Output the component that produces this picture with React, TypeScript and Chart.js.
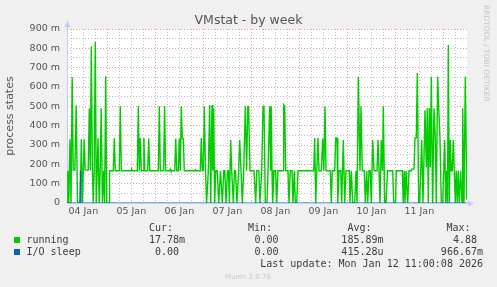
import React, { useEffect, useRef } from 'react';
import { Chart, registerables } from 'chart.js';

Chart.register(...registerables);

// time unit: half-hour steps (munin week resolution) since 04 Jan 00:00
const runningSlots = [
  7.7, 8.5, 9.5, 10.7, 11.7, 12.9, 13.9, 15.5, 16.9, 18.2, 21, 22, 23.1, 24.9, 25.9, 28.9, 30, 31, 32, 33.1,
  33.9, 34.9, 36, 37, 37.9, 38.7, 39.9, 40.9, 41.9, 43.1, 44.3, 45.3, 46.4, 47.4, 49.7, 50.3, 54, 55, 56, 60,
  61, 62, 71.7, 72.4, 73.1, 78, 79, 80, 81, 82, 83.7, 84.6, 85.5, 88.4, 89.4, 90.4, 99, 100, 101, 104.3,
  105.3, 106.3, 110.5, 111, 111.5, 115.4, 116.4, 117.4, 119, 120, 121, 122, 123, 124, 125, 135.4, 136, 136.7, 141, 142,
  143, 144, 145, 146.2, 147.3, 149, 150.4, 151.4, 152.7, 153.5, 154.4, 155.3, 156.5, 158, 159.4, 161.2, 163, 164.5, 165.5, 166.7,
  168.2, 169.2, 170.1, 171.4, 172.4, 174, 175.2, 176.2, 177.7, 179.3, 180.4, 181.7, 183, 184.4, 186, 187.3, 188.5, 189.3, 190.7, 194.7,
  196.4, 197.5, 199.5, 200.7, 202.4, 203.7, 204.7, 206, 207.7, 208.7, 210.4, 211.3, 211.9, 212.7, 213.4, 214.7, 216.3, 217.4, 218.7, 223.7,
  224.4, 225.4, 226.4, 228.7, 229.7, 231, 232.7, 233.7, 235, 236, 237.4, 238.7, 254.4, 255.4, 256.4, 257.5, 258.7, 259.7, 262, 263.4,
  264.5, 265.7, 266.7, 271, 272, 273, 275.4, 276.4, 277.7, 278.5, 279.7, 281.4, 282.4, 284, 285.4, 286.7, 290, 290.7, 292, 293.4,
  295.4, 296.7, 297.7, 299, 300.7, 301.7, 303, 305, 306, 307.4, 308.4, 309.7, 311, 312, 313.4, 314.7, 317.7, 318.7, 319.7, 320.7,
  322, 323.2, 324, 325.4, 326.7, 328.2, 333.4, 334.4, 336.2, 337, 343, 343.9, 344.9, 345.7, 346.7, 348.4, 349.7, 351.7, 352.2, 354.7,
  355.7, 357, 358, 359.4, 360.4, 362.4, 363.7, 365.7, 367, 368, 369, 370, 371, 372, 373.4, 374.7, 376, 377, 378.4, 379.4,
  380.7, 382, 383.4, 384.4, 385.4, 386.4, 387.4, 388.2, 389, 390, 391, 392, 393, 394, 395, 396, 397, 398, 399, 400,
  401.4, 402.7, 403.4, 404.7, 406, 407.5,
];

// running, in milli-units (m)
const runningValues = [
  0, 167, 0, 330, 0, 650, 170, 170, 505, 0, 0, 330, 0, 330, 170, 170, 490, 170, 810, 170,
  0, 170, 833, 0, 170, 336, 0, 170, 490, 0, 167, 0, 655, 0, 0, 167, 167, 336, 167, 167,
  500, 167, 167, 175, 167, 167, 500, 167, 336, 167, 167, 336, 167, 167, 333, 167, 167, 500, 167, 167,
  500, 167, 167, 175, 167, 167, 333, 167, 167, 333, 167, 500, 333, 333, 167, 167, 172, 167, 167, 336,
  167, 167, 500, 167, 0, 167, 507, 0, 507, 167, 490, 0, 167, 167, 0, 167, 0, 167, 167, 0,
  167, 167, 0, 326, 167, 0, 167, 167, 0, 167, 326, 167, 0, 167, 500, 167, 500, 500, 167, 167,
  0, 167, 167, 0, 167, 500, 500, 0, 0, 167, 500, 167, 500, 167, 0, 167, 167, 0, 167, 167,
  507, 500, 167, 167, 0, 167, 167, 0, 167, 0, 0, 167, 167, 336, 0, 167, 336, 167, 167, 333,
  167, 500, 167, 167, 0, 167, 167, 336, 336, 0, 167, 167, 0, 326, 0, 167, 167, 0, 167, 0,
  0, 167, 0, 653, 167, 500, 167, 167, 0, 167, 0, 167, 167, 0, 326, 167, 167, 326, 167, 0,
  326, 167, 500, 0, 0, 167, 167, 0, 0, 167, 167, 0, 167, 0, 167, 0, 167, 167, 175, 175,
  336, 336, 672, 0, 0, 326, 0, 480, 185, 490, 0, 490, 185, 653, 0, 490, 336, 0, 653, 490,
  336, 0, 0, 167, 326, 0, 167, 0, 817, 0, 326, 167, 167, 326, 167, 0, 167, 0, 167, 0,
  167, 0, 490, 0, 653, 18,
];

const ioSleepSlots = [7.7, 20.5, 21.1, 21.7, 407.5];
const ioSleepValues = [0, 0, 167, 0, 0];

const dayLabels = ['04 Jan', '05 Jan', '06 Jan', '07 Jan', '08 Jan', '09 Jan', '10 Jan', '11 Jan'];

const legendHeaders = ['Cur:', 'Min:', 'Avg:', 'Max:'];
const legendNames = ['running', 'I/O sleep'];
const legendColors = ['#00CC00', '#0066B3'];
const legendStats = [
  ['17.78m', '0.00 ', '185.89m', '4.88 '],
  ['0.00 ', '0.00 ', '415.28u', '966.67m'],
];
const lastUpdate = 'Last update: Mon Jan 12 11:00:08 2026';
const titleText = 'VMstat - by week';
const yTitle = 'process states';

const X_MIN = 7.7;
const X_MAX = 407.7;
const MAJOR = 'rgba(230,120,120,0.75)';
const MINOR = 'rgba(170,170,170,0.75)';
const AXIS = '#c4c8f4';

const decor = {
  id: 'decor',
  beforeDraw(chart: any) {
    const { ctx, chartArea: a } = chart;
    ctx.save();
    ctx.fillStyle = '#f0f0f0';
    ctx.fillRect(0, 0, chart.width, chart.height);
    ctx.fillStyle = '#ffffff';
    ctx.fillRect(a.left, a.top, a.right - a.left, a.bottom - a.top);
    ctx.restore();
  },
  beforeDatasetsDraw(chart: any) {
    const { ctx, chartArea: a } = chart;
    ctx.save();
    ctx.strokeStyle = AXIS;
    ctx.fillStyle = AXIS;
    ctx.lineWidth = 1;
    ctx.beginPath();
    ctx.moveTo(a.left + 0.5, a.bottom);
    ctx.lineTo(a.left + 0.5, a.top - 4);
    ctx.moveTo(a.left, a.bottom + 0.5);
    ctx.lineTo(a.right + 4, a.bottom + 0.5);
    ctx.stroke();
    ctx.beginPath();
    ctx.moveTo(a.left + 0.5, a.top - 8);
    ctx.lineTo(a.left - 2.5, a.top - 2);
    ctx.lineTo(a.left + 3.5, a.top - 2);
    ctx.closePath();
    ctx.fill();
    ctx.beginPath();
    ctx.moveTo(a.right + 7, a.bottom + 0.5);
    ctx.lineTo(a.right + 1, a.bottom - 2.5);
    ctx.lineTo(a.right + 1, a.bottom + 3.5);
    ctx.closePath();
    ctx.fill();
    ctx.restore();
  },
  afterDraw(chart: any) {
    const { ctx } = chart;
    ctx.save();
    // title
    ctx.fillStyle = '#555';
    ctx.font = '12.5px "DejaVu Sans"';
    ctx.textAlign = 'center';
    ctx.textBaseline = 'alphabetic';
    ctx.fillText(titleText, 248.5, 24);
    // watermark
    ctx.save();
    ctx.translate(486, 5);
    ctx.rotate(Math.PI / 2);
    ctx.fillStyle = '#c4c4c4';
    ctx.font = '7.5px "DejaVu Sans"';
    ctx.textAlign = 'left';
    ctx.textBaseline = 'middle';
    ctx.fillText('RRDTOOL / TOBI OETIKER', 0, 0);
    ctx.restore();
    // legend
    ctx.font = '10px "DejaVu Sans Mono"';
    ctx.fillStyle = '#3c3c3c';
    ctx.textAlign = 'left';
    const headerX = [149, 248, 347.5, 446.5];
    legendHeaders.forEach((h, i) => ctx.fillText(h, headerX[i], 231));
    const rightX = [185, 284.5, 383.5, 483];
    const rowY = [243, 255];
    legendNames.forEach((name, r) => {
      ctx.fillStyle = legendColors[r];
      ctx.fillRect(14, rowY[r] - 6, 6, 6);
      ctx.fillStyle = '#3c3c3c';
      ctx.textAlign = 'left';
      ctx.fillText(name, 26.5, rowY[r]);
      ctx.textAlign = 'right';
      legendStats[r].forEach((s, c) => ctx.fillText(s, rightX[c], rowY[r]));
    });
    ctx.textAlign = 'right';
    ctx.fillText(lastUpdate, 483, 267);
    ctx.textAlign = 'center';
    ctx.fillStyle = '#c8c8c8';
    ctx.font = '7px "DejaVu Sans"';
    ctx.fillText('Munin 2.0.76', 248, 279);
    ctx.restore();
  },
};

const App = () => {
  const ref = useRef<HTMLCanvasElement>(null);
  useEffect(() => {
    document.body.style.margin = '0';
    document.body.style.background = '#f0f0f0';
    const canvas = ref.current!;
    const xTicks: number[] = [];
    for (let v = 12; v <= X_MAX; v += 12) xTicks.push(v);
    const yTicks: number[] = [];
    for (let v = 0; v <= 900; v += 50) yTicks.push(v);
    const chart = new Chart(canvas, {
      type: 'line',
      data: {
        datasets: [
          {
            label: 'I/O sleep',
            data: ioSleepSlots.map((x, i) => ({ x, y: ioSleepValues[i] })),
            borderColor: '#0066B3',
            borderWidth: 1,
            pointRadius: 0,
            tension: 0,
            order: 0,
          },
          {
            label: 'running',
            data: runningSlots.map((x, i) => ({ x, y: runningValues[i] })),
            borderColor: '#00CC00',
            borderWidth: 1.4,
            pointRadius: 0,
            tension: 0,
            order: 1,
          },
        ],
      },
      options: {
        responsive: false,
        animation: false,
        devicePixelRatio: 1,
        layout: { padding: { left: 0, top: 29, right: 30, bottom: 64 } },
        plugins: {
          legend: { display: false },
          title: { display: false },
          tooltip: { enabled: false },
        },
        scales: {
          x: {
            type: 'linear',
            min: X_MIN,
            max: X_MAX,
            afterBuildTicks: (s: any) => {
              s.ticks = xTicks.map((v) => ({ value: v }));
            },
            afterFit: (s: any) => {
              s.height = 20;
            },
            ticks: {
              autoSkip: false,
              maxRotation: 0,
              padding: 3,
              color: '#555',
              font: { family: 'DejaVu Sans', size: 9.5 },
              callback: (v: any) => (v % 48 === 24 ? dayLabels[(v - 24) / 48] ?? '' : ''),
            },
            grid: {
              drawTicks: false,
              lineWidth: 1,
              color: (c: any) => (c.tick && c.tick.value % 48 === 0 ? MAJOR : MINOR),
            },
            border: { display: false, dash: [1, 2] },
          },
          y: {
            type: 'linear',
            min: 0,
            max: 900,
            afterBuildTicks: (s: any) => {
              s.ticks = yTicks.map((v) => ({ value: v }));
            },
            afterFit: (s: any) => {
              s.width = 67;
            },
            ticks: {
              autoSkip: false,
              padding: 7,
              color: '#555',
              font: { family: 'DejaVu Sans', size: 9.5 },
              callback: (v: any) => (v % 100 === 0 ? (v === 0 ? '0' : `${v} m`) : ''),
            },
            grid: {
              drawTicks: false,
              lineWidth: 1,
              color: (c: any) => (c.tick && c.tick.value % 100 === 0 ? MAJOR : MINOR),
            },
            border: { display: false, dash: [1, 2] },
            title: {
              display: true,
              text: yTitle,
              color: '#555',
              font: { family: 'DejaVu Sans', size: 11 },
              padding: { top: 4, bottom: 0 },
            },
          },
        },
      },
      plugins: [decor],
    } as any);
    return () => chart.destroy();
  }, []);
  return (
    <canvas
      ref={ref}
      width={497}
      height={287}
      style={{ display: 'block', width: 497, height: 287 }}
    />
  );
};

export default App;
